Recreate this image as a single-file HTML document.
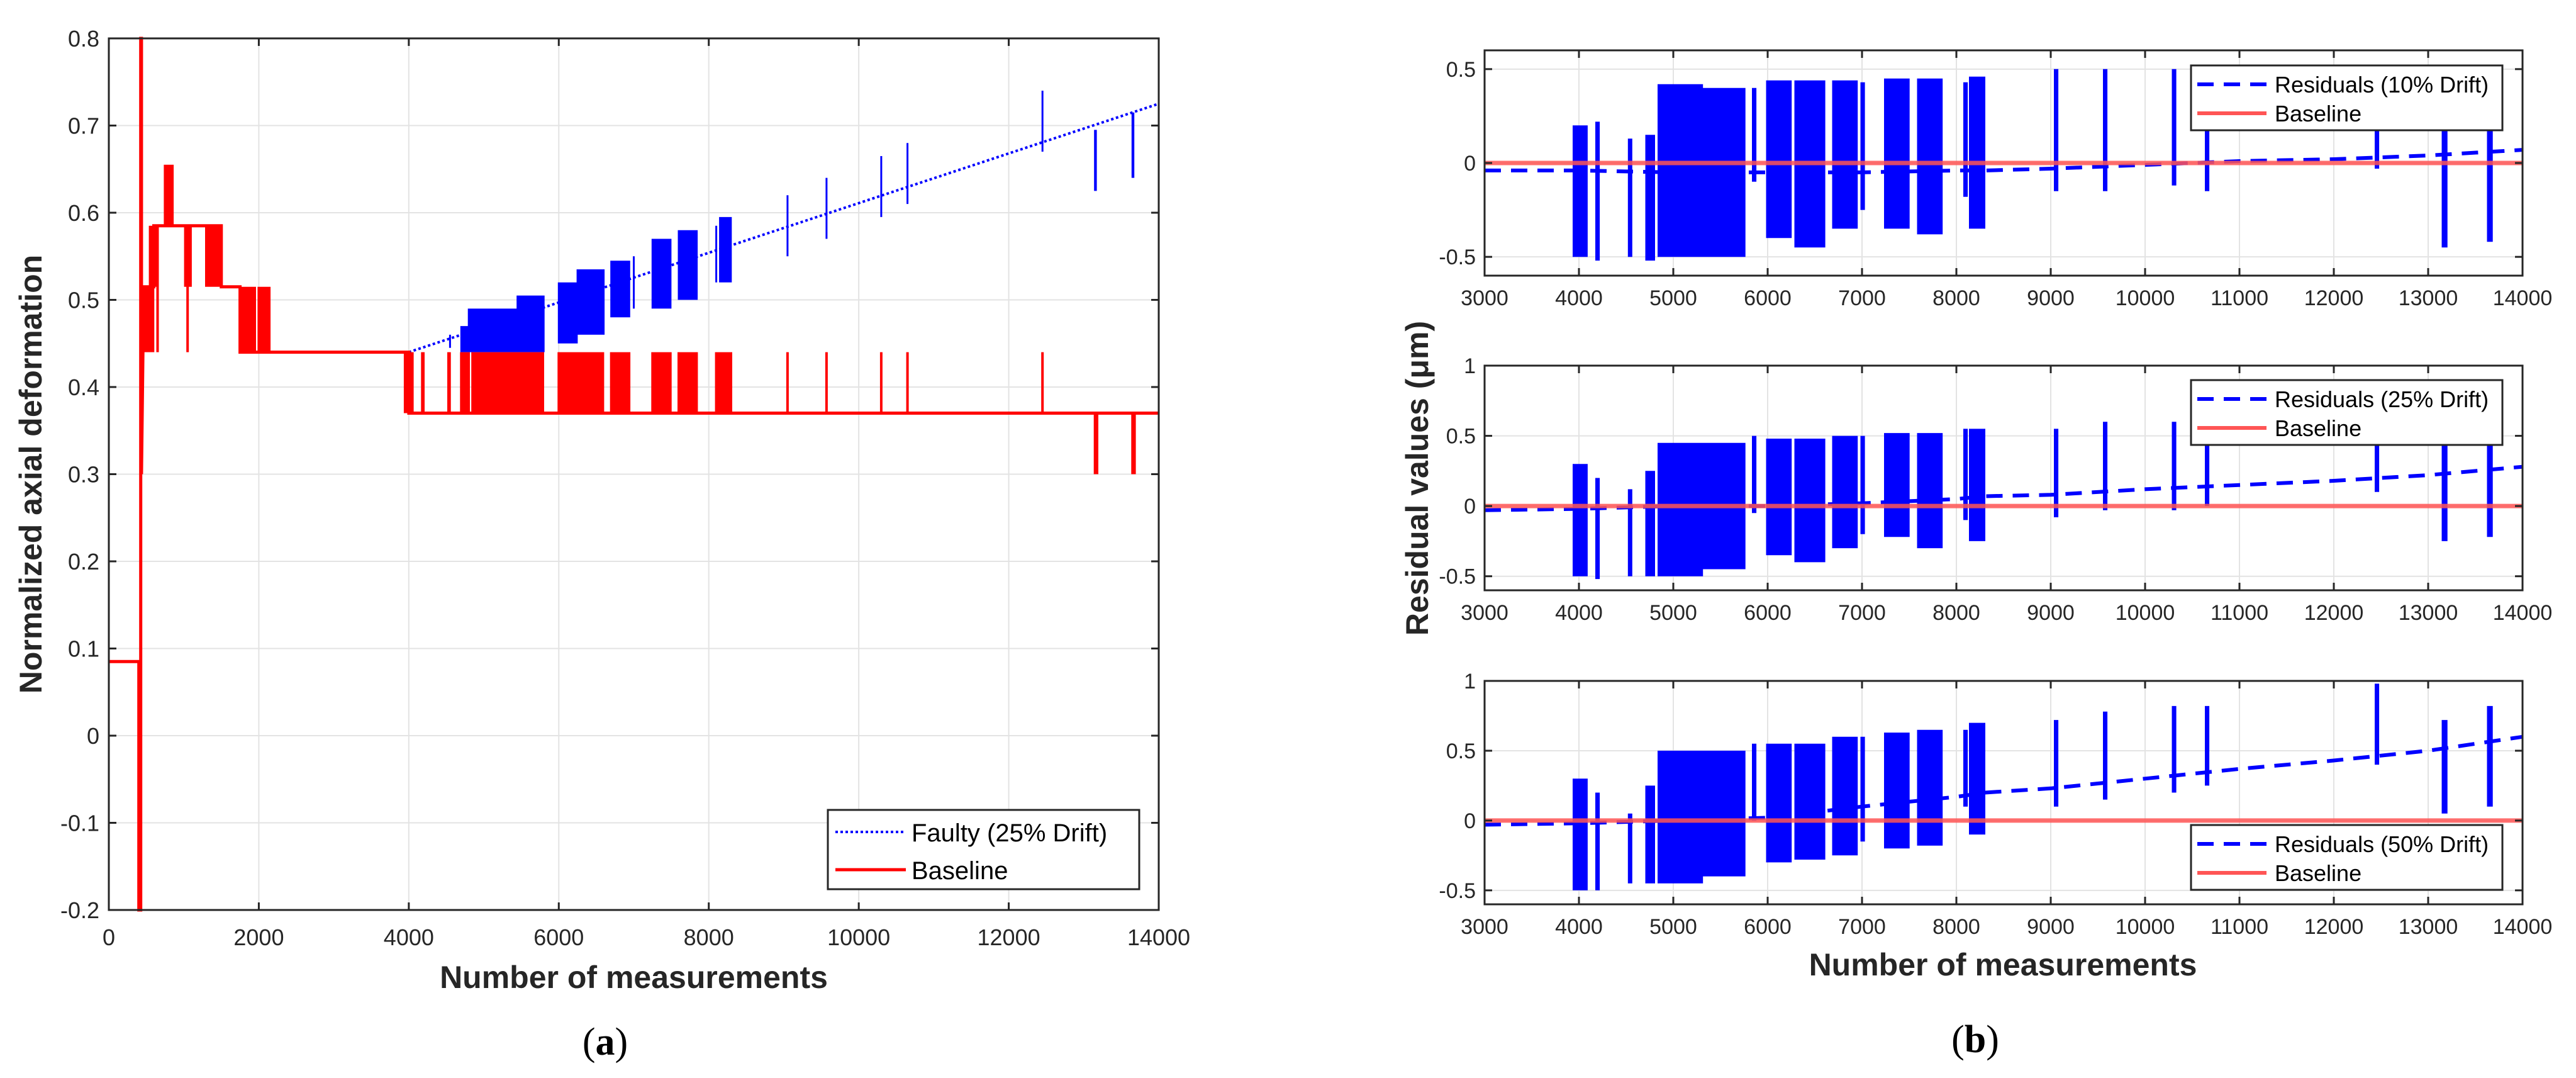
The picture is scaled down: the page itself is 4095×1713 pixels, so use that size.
<!DOCTYPE html>
<html><head><meta charset="utf-8"><style>
html,body{margin:0;padding:0;background:#fff;}
svg{display:block;font-family:"Liberation Sans",sans-serif;}
</style></head><body>
<svg id="fig" width="4095" height="1713" viewBox="0 0 4095 1713" xmlns="http://www.w3.org/2000/svg">
<g id="pa"></g>
<g id="pb"></g>
</svg>
<script>
// ---------- Panel (a) data ----------
const aXTicks = [0,2000,4000,6000,8000,10000,12000,14000];
const aYTicks = [-0.2,-0.1,0,0.1,0.2,0.3,0.4,0.5,0.6,0.7,0.8];
const aYTickLabels = ["-0.2","-0.1","0","0.1","0.2","0.3","0.4","0.5","0.6","0.7","0.8"];
const redStepX = [0,400,400,425,425,435,435,455,470,600,600,1500,1500,1750,1750,2150,2150,4000,4000,14000];
const redStepY = [0.085,0.085,-0.2,-0.2,0.8,0.8,0.3,0.44,0.515,0.515,0.585,0.585,0.515,0.515,0.44,0.44,0.44,0.44,0.37,0.37];
const redClStart = [450,550,750,1020,1300,1750,2000,3950,4180,4530,4700,4850,6000,6700,7250,7600,8100,9050,9570,10300,10650,12450,13150,13650,650,1050];
const redClEnd   = [600,650,850,1100,1500,1950,2150,4050,4200,4550,4800,5800,6600,6950,7500,7850,8300,9060,9580,10310,10660,12460,13180,13680,660,1060];
const redClLow   = [0.44,0.515,0.585,0.515,0.515,0.44,0.44,0.37,0.37,0.37,0.37,0.37,0.37,0.37,0.37,0.37,0.37,0.37,0.37,0.37,0.37,0.37,0.30,0.30,0.44,0.44];
const redClHigh  = [0.515,0.585,0.655,0.585,0.585,0.515,0.515,0.44,0.44,0.44,0.44,0.44,0.44,0.44,0.44,0.44,0.44,0.44,0.44,0.44,0.44,0.44,0.37,0.37,0.585,0.585];
const blueTrendX = [4000,14000];
const blueTrendY = [0.44,0.725];
const blueClStart = [4550,4700,4800,5450,6000,6250,6700,7000,7250,7600,8100,8150,9050,9570,10300,10650,12450,13150,13650];
const blueClEnd   = [4560,4800,5450,5800,6250,6600,6950,7010,7500,7850,8110,8300,9060,9580,10310,10660,12460,13170,13670];
const blueClLow   = [0.445,0.44,0.44,0.44,0.45,0.46,0.48,0.49,0.49,0.50,0.52,0.52,0.55,0.57,0.595,0.61,0.67,0.625,0.64];
const blueClHigh  = [0.46,0.47,0.49,0.505,0.52,0.535,0.545,0.55,0.57,0.58,0.585,0.595,0.62,0.64,0.665,0.68,0.74,0.695,0.715];

// ---------- Panel (b) data ----------
const bXTicks = [3000,4000,5000,6000,7000,8000,9000,10000,11000,12000,13000,14000];
const trendX = [3000,4000,5000,6000,7000,8000,8300,9000,10000,11000,12000,13000,14000];
const trend10 = [-0.04,-0.04,-0.05,-0.05,-0.05,-0.04,-0.04,-0.03,-0.01,0.01,0.02,0.04,0.07];
const trend25 = [-0.03,-0.02,0.0,0.0,0.02,0.05,0.07,0.08,0.12,0.15,0.18,0.22,0.28];
const trend50 = [-0.03,-0.02,0.0,0.02,0.1,0.17,0.2,0.23,0.3,0.37,0.43,0.5,0.6];
const clStart = [3950,4190,4535,4720,4850,5300,5850,6000,6300,6700,7000,7250,7600,8090,8150,9050,9570,10300,10650,12450,13160,13640];
const clEnd   = [4080,4210,4550,4800,5300,5750,5865,6250,6600,6950,7015,7500,7850,8105,8300,9065,9585,10315,10665,12465,13190,13680];
const low10  = [-0.5,-0.52,-0.5,-0.52,-0.5,-0.5,-0.1,-0.4,-0.45,-0.35,-0.25,-0.35,-0.38,-0.18,-0.35,-0.15,-0.15,-0.12,-0.15,-0.03,-0.45,-0.42];
const high10 = [0.2,0.22,0.13,0.15,0.42,0.4,0.4,0.44,0.44,0.44,0.43,0.45,0.45,0.43,0.46,0.5,0.5,0.5,0.2,0.2,0.2,0.18];
const low25  = [-0.5,-0.52,-0.5,-0.5,-0.5,-0.45,-0.05,-0.35,-0.4,-0.3,-0.2,-0.22,-0.3,-0.1,-0.25,-0.08,-0.03,-0.03,0.0,0.1,-0.25,-0.22];
const high25 = [0.3,0.2,0.12,0.25,0.45,0.45,0.5,0.48,0.48,0.5,0.5,0.52,0.52,0.55,0.55,0.55,0.6,0.6,0.45,0.45,0.45,0.45];
const low50  = [-0.5,-0.5,-0.45,-0.45,-0.45,-0.4,0.0,-0.3,-0.28,-0.25,-0.15,-0.2,-0.18,0.1,-0.1,0.1,0.15,0.2,0.25,0.4,0.05,0.1];
const high50 = [0.3,0.2,0.05,0.25,0.5,0.5,0.55,0.55,0.55,0.6,0.6,0.63,0.65,0.65,0.7,0.72,0.78,0.82,0.82,0.98,0.72,0.82];
const bPanels = [
  {top:80, bottom:438, ymin:-0.6, ymax:0.6, yt:[-0.5,0,0.5], ytl:["-0.5","0","0.5"], trend:trend10, low:low10, high:high10, leg:"Residuals (10% Drift)", legY:104},
  {top:581, bottom:938, ymin:-0.6, ymax:1, yt:[-0.5,0,0.5,1], ytl:["-0.5","0","0.5","1"], trend:trend25, low:low25, high:high25, leg:"Residuals (25% Drift)", legY:604},
  {top:1082, bottom:1437, ymin:-0.6, ymax:1, yt:[-0.5,0,0.5,1], ytl:["-0.5","0","0.5","1"], trend:trend50, low:low50, high:high50, leg:"Residuals (50% Drift)", legY:1311}
];

const NS="http://www.w3.org/2000/svg";
function mk(parent, tag, attrs, text){
  const e=document.createElementNS(NS,tag);
  for(const k in attrs) e.setAttribute(k,attrs[k]);
  if(text!==undefined) e.textContent=text;
  parent.appendChild(e); return e;
}
const AX="#262626", GRID="#e3e3e3";

// ---------- Panel (a) ----------
(function(){
  const g=document.getElementById('pa');
  const L=173,R=1842,T=61,B=1446;
  const xs=v=>L+(v-0)/(14000-0)*(R-L);
  const ys=v=>B-(v-(-0.2))/(0.8-(-0.2))*(B-T);
  aXTicks.forEach(t=>{
    const l=mk(g,'line',{x1:xs(t),x2:xs(t),y1:T,y2:B,stroke:GRID,'stroke-width':2});
    
    
  });
  aYTicks.forEach(t=>{
    const l=mk(g,'line',{x1:L,x2:R,y1:ys(t),y2:ys(t),stroke:GRID,'stroke-width':2});
    
    
  });
  const bl=mk(g,'g',{});
  
  
  let d='M'+xs(blueTrendX[0])+','+ys(blueTrendY[0])+' L'+xs(blueTrendX[1])+','+ys(blueTrendY[1]);
  mk(bl,'path',{d:d,stroke:'#0000ff','stroke-width':4,fill:'none','stroke-dasharray':'4,4'});
  let bd='';
  for(let i=0;i<blueClStart.length;i++){
    for(let x=blueClStart[i];x<=blueClEnd[i];x+=12){
      bd+='M'+xs(x).toFixed(1)+','+ys(blueClLow[i]).toFixed(1)+'V'+ys(blueClHigh[i]).toFixed(1);
    }
  }
  mk(bl,'path',{d:bd,stroke:'#0000ff','stroke-width':3,fill:'none'});
  const rl=mk(g,'g',{});
  
  
  let rd='';
  redStepX.forEach((x,i)=>{rd+=(i?'L':'M')+xs(x).toFixed(1)+','+ys(redStepY[i]).toFixed(1);});
  mk(rl,'path',{d:rd,stroke:'#ff0000','stroke-width':5,fill:'none'});
  let rc='';
  for(let i=0;i<redClStart.length;i++){
    for(let x=redClStart[i];x<=redClEnd[i];x+=14){
      rc+='M'+xs(x).toFixed(1)+','+ys(redClLow[i]).toFixed(1)+'V'+ys(redClHigh[i]).toFixed(1);
    }
  }
  mk(rl,'path',{d:rc,stroke:'#ff0000','stroke-width':4,fill:'none'});
  const box=mk(g,'rect',{x:L,y:T,width:R-L,height:B-T,fill:'none',stroke:AX,'stroke-width':3});
  
  
  aXTicks.forEach(t=>{
    mk(g,'line',{x1:xs(t),x2:xs(t),y1:B,y2:B-12,stroke:AX,'stroke-width':3});
    mk(g,'line',{x1:xs(t),x2:xs(t),y1:T,y2:T+12,stroke:AX,'stroke-width':3});
    const tx=mk(g,'text',{x:xs(t),y:1502,'font-size':36,fill:AX,'text-anchor':'middle'},String(t));
    
    
  });
  aYTicks.forEach((t,i)=>{
    mk(g,'line',{x1:L,x2:L+12,y1:ys(t),y2:ys(t),stroke:AX,'stroke-width':3});
    mk(g,'line',{x1:R,x2:R-12,y1:ys(t),y2:ys(t),stroke:AX,'stroke-width':3});
    const tx=mk(g,'text',{x:158,y:ys(t)+13,'font-size':36,fill:AX,'text-anchor':'end'},aYTickLabels[i]);
    
    
  });
  const xt=mk(g,'text',{x:(L+R)/2,y:1570,'font-size':50,'font-weight':'bold',fill:AX,'text-anchor':'middle'},'Number of measurements');
  
  
  const yt=mk(g,'text',{x:0,y:0,'font-size':50,'font-weight':'bold',fill:AX,'text-anchor':'middle',transform:'translate(66,'+((T+B)/2)+') rotate(-90)'},'Normalized axial deformation');
  
  
  const lg=mk(g,'g',{});
  
  
  mk(lg,'rect',{x:1316,y:1287,width:495,height:126,fill:'#fff',stroke:AX,'stroke-width':3});
  mk(lg,'line',{x1:1328,x2:1440,y1:1322,y2:1322,stroke:'#0000ff','stroke-width':4,'stroke-dasharray':'4,4'});
  mk(lg,'text',{x:1449,y:1337,'font-size':40,fill:'#000'},'Faulty (25% Drift)');
  mk(lg,'line',{x1:1328,x2:1440,y1:1382,y2:1382,stroke:'#ff0000','stroke-width':5});
  mk(lg,'text',{x:1449,y:1397,'font-size':40,fill:'#000'},'Baseline');
  const cap=mk(g,'text',{x:962,y:1676,'font-size':62,fill:'#000','text-anchor':'middle','font-family':'Liberation Serif, serif'});
  
  
  mk(cap,'tspan',{},'(');mk(cap,'tspan',{'font-weight':'bold'},'a');mk(cap,'tspan',{},')');
})();

// ---------- Panel (b) ----------
(function(){
  const g=document.getElementById('pb');
  const L=2360,R=4010;
  const xs=v=>L+(v-3000)/(14000-3000)*(R-L);
  bPanels.forEach((p,pi)=>{
    const sg=mk(g,'g',{});
    
    
    const ys=v=>p.bottom-(v-p.ymin)/(p.ymax-p.ymin)*(p.bottom-p.top);
    bXTicks.forEach(t=>mk(sg,'line',{x1:xs(t),x2:xs(t),y1:p.top,y2:p.bottom,stroke:GRID,'stroke-width':2}));
    p.yt.forEach(t=>mk(sg,'line',{x1:L,x2:R,y1:ys(t),y2:ys(t),stroke:GRID,'stroke-width':2}));
    let d='';
    trendX.forEach((x,i)=>{d+=(i?'L':'M')+xs(x).toFixed(1)+','+ys(p.trend[i]).toFixed(1);});
    const tr=mk(sg,'path',{d:d,stroke:'#0000ff','stroke-width':6,fill:'none','stroke-dasharray':'26,16'});
    
    
    let cd='';
    for(let i=0;i<clStart.length;i++){
      for(let x=clStart[i];x<=clEnd[i];x+=14){
        cd+='M'+xs(x).toFixed(1)+','+ys(p.low[i]).toFixed(1)+'V'+ys(p.high[i]).toFixed(1);
      }
    }
    const cl=mk(sg,'path',{d:cd,stroke:'#0000ff','stroke-width':5,fill:'none'});
    
    
    const base=mk(sg,'line',{x1:L,x2:R,y1:ys(0),y2:ys(0),stroke:'#ff5555','stroke-width':7,'stroke-opacity':0.85});
    
    
    mk(sg,'rect',{x:L,y:p.top,width:R-L,height:p.bottom-p.top,fill:'none',stroke:AX,'stroke-width':3});
    bXTicks.forEach(t=>{
      mk(sg,'line',{x1:xs(t),x2:xs(t),y1:p.bottom,y2:p.bottom-12,stroke:AX,'stroke-width':3});
      mk(sg,'line',{x1:xs(t),x2:xs(t),y1:p.top,y2:p.top+12,stroke:AX,'stroke-width':3});
      const tx=mk(sg,'text',{x:xs(t),y:p.bottom+47,'font-size':34,fill:AX,'text-anchor':'middle'},String(t));
      
      
    });
    p.yt.forEach((t,i)=>{
      mk(sg,'line',{x1:L,x2:L+12,y1:ys(t),y2:ys(t),stroke:AX,'stroke-width':3});
      mk(sg,'line',{x1:R,x2:R-12,y1:ys(t),y2:ys(t),stroke:AX,'stroke-width':3});
      const tx=mk(sg,'text',{x:2346,y:ys(t)+12,'font-size':34,fill:AX,'text-anchor':'end'},p.ytl[i]);
      
      
    });
    const lg=mk(sg,'g',{});
    
    
    mk(lg,'rect',{x:3483,y:p.legY,width:495,height:103,fill:'#fff',stroke:AX,'stroke-width':3});
    mk(lg,'line',{x1:3493,x2:3603,y1:p.legY+30,y2:p.legY+30,stroke:'#0000ff','stroke-width':6,'stroke-dasharray':'26,16'});
    mk(lg,'text',{x:3616,y:p.legY+43,'font-size':36,fill:'#000'},p.leg);
    mk(lg,'line',{x1:3493,x2:3603,y1:p.legY+76,y2:p.legY+76,stroke:'#ff5555','stroke-width':6});
    mk(lg,'text',{x:3616,y:p.legY+89,'font-size':36,fill:'#000'},'Baseline');
  });
  const xt=mk(g,'text',{x:3184,y:1550,'font-size':50,'font-weight':'bold',fill:AX,'text-anchor':'middle'},'Number of measurements');
  
  
  const yt=mk(g,'text',{x:0,y:0,'font-size':50,'font-weight':'bold',fill:AX,'text-anchor':'middle',transform:'translate(2270,760) rotate(-90)'},'Residual values (μm)');
  
  
  const cap=mk(g,'text',{x:3140,y:1672,'font-size':62,fill:'#000','text-anchor':'middle','font-family':'Liberation Serif, serif'});
  
  
  mk(cap,'tspan',{},'(');mk(cap,'tspan',{'font-weight':'bold'},'b');mk(cap,'tspan',{},')');
})();
</script>
</body></html>
